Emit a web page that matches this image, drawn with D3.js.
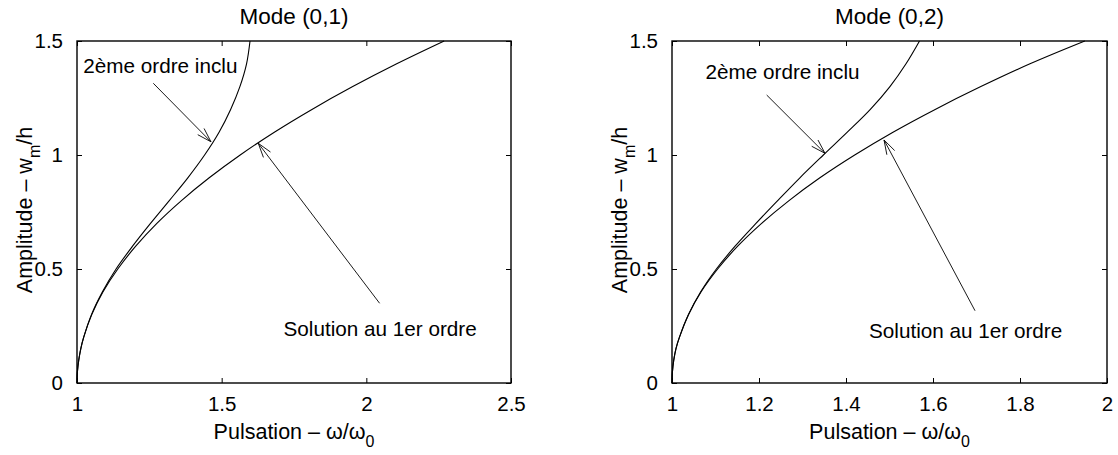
<!DOCTYPE html>
<html><head><meta charset="utf-8">
<script src="https://cdn.jsdelivr.net/npm/d3@7"></script>
<style>
body{margin:0;background:#fff}
svg{display:block}
text{font-family:"Liberation Sans",Arial,Helvetica,sans-serif;fill:#000}
</style>
</head><body>
<svg id="chart" width="1118" height="455"></svg>
<script>
// amplitude samples w_m/h (y axis)
const amplitude = [0, 0.05, 0.1, 0.15, 0.2, 0.3, 0.4, 0.5, 0.6, 0.7, 0.8, 0.9, 1.0, 1.1, 1.2, 1.3, 1.4, 1.5];
// Mode (0,1) pulsation values
const mode01FirstOrder  = [1, 1.0014, 1.006, 1.013, 1.023, 1.051, 1.090, 1.141, 1.203, 1.276, 1.361, 1.457, 1.564, 1.682, 1.812, 1.953, 2.105, 2.269];
const mode01SecondOrder = [1, 1.0014, 1.006, 1.013, 1.023, 1.050, 1.088, 1.135, 1.192, 1.254, 1.319, 1.383, 1.441, 1.491, 1.531, 1.563, 1.586, 1.598];
// Mode (0,2)
const mode02FirstOrder  = [1, 1.001, 1.004, 1.009, 1.017, 1.038, 1.067, 1.105, 1.151, 1.206, 1.269, 1.340, 1.420, 1.508, 1.605, 1.710, 1.823, 1.949];
const mode02SecondOrder = [1, 1.001, 1.004, 1.009, 1.017, 1.038, 1.066, 1.102, 1.145, 1.193, 1.243, 1.294, 1.348, 1.403, 1.456, 1.501, 1.538, 1.569];
// ticks
const mode01XTicks = [1, 1.5, 2, 2.5];
const mode02XTicks = [1, 1.2, 1.4, 1.6, 1.8, 2];
const yTicks = [0, 0.5, 1, 1.5];
const titles = ["Mode (0,1)", "Mode (0,2)"];
const labelSecond = "2ème ordre inclu";
const labelFirst = "Solution au 1er ordre";

const panels = [
  {left: 77, right: 511, xDomain: [1, 2.5], xTicks: mode01XTicks, title: titles[0],
   series: [mode01FirstOrder, mode01SecondOrder],
   notes: [
     {text: labelSecond, at: [1.0218, 1.358], from: [1.2637, 1.3145], to: [1.463, 1.058]},
     {text: labelFirst,  at: [1.7137, 0.206], from: [2.0459, 0.3496], to: [1.6266, 1.0513]}
   ]},
  {left: 672, right: 1107, xDomain: [1, 2], xTicks: mode02XTicks, title: titles[1],
   series: [mode02FirstOrder, mode02SecondOrder],
   notes: [
     {text: labelSecond, at: [1.077, 1.333], from: [1.2177, 1.263], to: [1.3517, 1.0075]},
     {text: labelFirst,  at: [1.4529, 0.1987], from: [1.6966, 0.317], to: [1.4874, 1.0658]}
   ]}
];

const svg = d3.select("#chart");
svg.append("rect").attr("width", 1118).attr("height", 455).attr("fill", "#fff");
const plotTop = 41, plotBottom = 383, tickLen = 5;
const fmt = d => String(d);

panels.forEach(p => {
  const x = d3.scaleLinear().domain(p.xDomain).range([p.left, p.right]);
  const y = d3.scaleLinear().domain([0, 1.5]).range([plotBottom, plotTop]);
  const g = svg.append("g");

  // axes (ticks inside, mirrored on all sides)
  const ax = g.append("g").attr("transform", `translate(0,${plotBottom})`)
    .call(d3.axisBottom(x).tickValues(p.xTicks).tickFormat(fmt).tickSizeInner(-tickLen).tickSizeOuter(0).tickPadding(13));
  const axT = g.append("g").attr("transform", `translate(0,${plotTop})`)
    .call(d3.axisTop(x).tickValues(p.xTicks).tickFormat("").tickSizeInner(-tickLen).tickSizeOuter(0));
  const ay = g.append("g").attr("transform", `translate(${p.left},0)`)
    .call(d3.axisLeft(y).tickValues(yTicks).tickFormat(fmt).tickSizeInner(-tickLen).tickSizeOuter(0).tickPadding(14));
  const ayR = g.append("g").attr("transform", `translate(${p.right},0)`)
    .call(d3.axisRight(y).tickValues(yTicks).tickFormat("").tickSizeInner(-tickLen).tickSizeOuter(0));
  [ax, axT, ay, ayR].forEach(a => {
    a.select(".domain").remove();
    a.selectAll("line").attr("stroke", "#000").attr("stroke-width", 1);
    a.selectAll("text").attr("font-size", 20.5).attr("font-family", '"Liberation Sans",Arial,sans-serif').attr("fill", "#000");
  });
  ax.selectAll("text").attr("dy", "0.71em");

  // frame
  g.append("rect").attr("x", p.left).attr("y", plotTop)
    .attr("width", p.right - p.left).attr("height", plotBottom - plotTop)
    .attr("fill", "none").attr("stroke", "#000").attr("stroke-width", 1.4);

  // curves
  const line = d3.line().x(d => x(d[0])).y(d => y(d[1])).curve(d3.curveCatmullRom.alpha(0.5));
  p.series.forEach(s => {
    g.append("path").datum(s.map((v, i) => [v, amplitude[i]]))
      .attr("d", line).attr("fill", "none").attr("stroke", "#000").attr("stroke-width", 1.1);
  });

  // annotations
  p.notes.forEach(n => {
    const x0 = x(n.from[0]), y0 = y(n.from[1]), x1 = x(n.to[0]), y1 = y(n.to[1]);
    g.append("line").attr("x1", x0).attr("y1", y0).attr("x2", x1).attr("y2", y1)
      .attr("stroke", "#000").attr("stroke-width", 0.9);
    const ang = Math.atan2(y0 - y1, x0 - x1), L = 15, spread = 0.3;
    [-spread, spread].forEach(da => {
      g.append("line").attr("x1", x1).attr("y1", y1)
        .attr("x2", x1 + L * Math.cos(ang + da)).attr("y2", y1 + L * Math.sin(ang + da))
        .attr("stroke", "#000").attr("stroke-width", 0.9);
    });
    g.append("text").attr("x", x(n.at[0])).attr("y", y(n.at[1]))
      .attr("font-size", 20.7).text(n.text);
  });

  // title
  g.append("text").attr("x", (p.left + p.right) / 2).attr("y", 24)
    .attr("text-anchor", "middle").attr("font-size", 22.5).text(p.title);

  // x label
  const xl = g.append("text").attr("x", (p.left + p.right) / 2).attr("y", 439)
    .attr("text-anchor", "middle").attr("font-size", 21.5);
  xl.append("tspan").text("Pulsation \u2013 \u03c9/\u03c9");
  xl.append("tspan").attr("font-size", 16).attr("dy", 8).text("0");

  // y label
  const yl = g.append("text")
    .attr("transform", `translate(${p.left - 45},${(plotTop + plotBottom) / 2 - 2}) rotate(-90)`)
    .attr("text-anchor", "middle").attr("font-size", 21.5);
  yl.append("tspan").text("Amplitude \u2013 w");
  yl.append("tspan").attr("font-size", 16).attr("dy", 8).text("m");
  yl.append("tspan").attr("dy", -8).text("/h");
});
</script>
</body></html>
